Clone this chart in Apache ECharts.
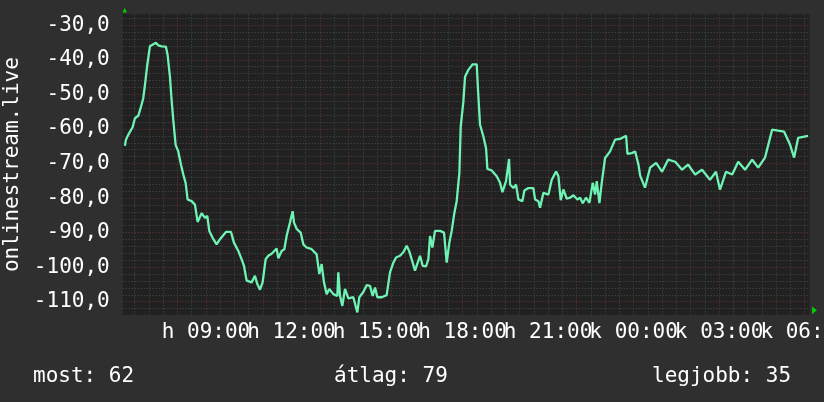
<!DOCTYPE html>
<html>
<head>
<meta charset="utf-8">
<script src="https://cdn.jsdelivr.net/npm/echarts@6/dist/echarts.min.js"></script>
<style>
html,body{margin:0;padding:0;background:#2f2f2f;}
#chart{width:824px;height:402px;}
</style>
</head>
<body>
<div id="chart"></div>
<script>
// hours after 06:00 (day 1)
const hours = [0.158,0.193,0.275,0.427,0.509,0.626,0.708,0.801,0.860,0.942,1.035,1.152,1.246,1.327,1.444,1.596,1.655,1.737,1.795,1.854,1.936,2.029,2.123,2.205,2.287,2.357,2.497,2.614,2.708,2.848,2.965,3.047,3.117,3.234,3.374,3.491,3.702,3.877,3.982,4.135,4.251,4.333,4.427,4.602,4.719,4.801,4.895,4.988,5.094,5.187,5.304,5.480,5.538,5.655,5.749,5.830,5.947,6.041,6.088,6.181,6.322,6.415,6.532,6.708,6.883,6.977,7.058,7.140,7.234,7.327,7.468,7.608,7.643,7.702,7.784,7.877,7.994,8.170,8.310,8.380,8.520,8.637,8.754,8.848,8.930,9.012,9.164,9.339,9.456,9.573,9.667,9.807,9.924,10.041,10.135,10.216,10.333,10.427,10.509,10.602,10.719,10.801,10.860,10.942,11.035,11.211,11.351,11.444,11.538,11.620,11.713,11.795,11.889,11.936,12.029,12.088,12.205,12.357,12.497,12.556,12.614,12.731,12.825,12.871,13.023,13.199,13.316,13.398,13.526,13.632,13.667,13.784,13.877,13.959,14.099,14.170,14.310,14.485,14.544,14.661,14.719,14.836,15.012,15.129,15.281,15.363,15.444,15.538,15.655,15.772,15.889,16.029,16.123,16.216,16.333,16.450,16.567,16.649,16.708,16.801,16.883,17.000,17.175,17.351,17.526,17.737,17.784,17.936,18.053,18.170,18.23,18.40,18.58,18.79,19.00,19.21,19.46,19.70,19.91,20.16,20.40,20.68,20.89,21.03,21.24,21.46,21.67,21.91,22.16,22.37,22.61,22.86,23.28,23.49,23.63,23.77,24.12];
const values = [-64.9,-63.1,-61.7,-59.5,-56.9,-56.2,-54.0,-51.1,-47.3,-41.5,-36.1,-35.5,-35.1,-35.8,-36.1,-36.2,-38.6,-44.9,-51.6,-57.4,-64.6,-66.5,-70.3,-73.2,-75.6,-80.4,-80.9,-81.9,-86.9,-84.4,-85.7,-85.2,-89.5,-91.5,-93.4,-91.9,-89.8,-89.8,-92.9,-95.3,-97.7,-99.6,-103.9,-104.4,-102.5,-104.9,-106.5,-104.4,-97.7,-96.7,-96.1,-94.6,-97.4,-95.3,-94.8,-91.0,-87.1,-83.8,-87.1,-88.9,-90.0,-93.4,-94.3,-94.8,-96.3,-102.0,-99.1,-104.4,-107.8,-106.3,-107.8,-108.3,-101.5,-108.3,-111.2,-106.3,-109.0,-108.7,-113.1,-108.7,-107.2,-105.2,-105.4,-108.3,-105.9,-108.7,-108.7,-108.1,-101.5,-98.7,-97.2,-96.7,-95.7,-93.8,-95.5,-97.7,-101.0,-98.7,-96.7,-99.6,-99.8,-97.7,-91.0,-94.3,-89.5,-89.5,-90.0,-98.7,-92.9,-89.5,-84.3,-80.9,-72.7,-59.3,-52.1,-44.9,-42.9,-41.3,-41.3,-50.7,-58.8,-62.2,-65.6,-71.6,-72.0,-73.7,-75.6,-78.3,-75.1,-68.7,-76.1,-77.1,-76.1,-80.4,-80.9,-77.8,-77.1,-77.1,-80.4,-80.9,-82.8,-78.5,-79.0,-74.7,-72.3,-73.7,-80.6,-77.5,-80.2,-79.9,-79.2,-80.4,-79.9,-81.5,-79.9,-81.4,-75.6,-79.0,-75.1,-81.5,-75.6,-68.4,-66.5,-63.1,-62.9,-62.0,-67.2,-67.0,-66.5,-70.3,-73.5,-77.0,-71.2,-69.8,-72.4,-68.9,-69.5,-71.8,-70.3,-73.2,-71.8,-74.7,-72.4,-77.6,-72.4,-73.2,-69.5,-71.8,-68.9,-71.2,-68.3,-60.2,-60.8,-64.6,-68.3,-62.6,-62.0];
const xLabelHours = [3,6,9,12,15,18,21,24];
const xTickLabels = ['h 09:00','h 12:00','h 15:00','h 18:00','h 21:00','k 00:00','k 03:00','k 06:00'];
const yLabelValues = [-110,-100,-90,-80,-70,-60,-50,-40,-30];
const axisTitle = 'onlinestream.live';
const footer = ['most: 62', 'átlag: 79', 'legjobb: 35'];

const xGridValues = [];
for (let i = 1; i <= 48; i++) xGridValues.push(i * 0.5);
const yGridValues = [];
for (let v = -112; v <= -28; v += 2) yGridValues.push(v);

const FONT = 'DejaVu Sans Mono';
const X_MIN = 0.08, X_MAX = 24.17;
const labelFormatter = v => xTickLabels[xLabelHours.indexOf(Math.round(v))] || '';
function labelAxis(vals) {
  return {
    type: 'value', min: X_MIN, max: X_MAX, position: 'bottom', offset: 0,
    axisLine: {show: false}, axisTick: {show: false}, splitLine: {show: false},
    axisLabel: {
      customValues: vals, interval: 0, hideOverlap: false,
      showMinLabel: true, showMaxLabel: true,
      color: '#ffffff', fontFamily: FONT, fontSize: 21, margin: 7,
      formatter: labelFormatter
    }
  };
}
const footStyle = {color: '#ffffff', fontFamily: FONT, fontSize: 21, fontWeight: 'normal'};
const chart = echarts.init(document.getElementById('chart'), null, {renderer: 'canvas'});
chart.setOption({
  backgroundColor: '#2f2f2f',
  animation: false,
  grid: {
    left: 122.7, right: 14.5, top: 14.3, bottom: 87,
    show: true, backgroundColor: '#212121', borderWidth: 0,
    containLabel: false, outerBoundsMode: 'none'
  },
  title: [
    {text: footer[0], left: 28, top: 361, textStyle: footStyle},
    {text: footer[1], left: 329, top: 361, textStyle: footStyle},
    {text: footer[2], left: 647, top: 361, textStyle: footStyle}
  ],
  xAxis: [
    {
      type: 'value', min: X_MIN, max: X_MAX,
      axisLine: {show: false},
      axisTick: {show: false, customValues: xGridValues},
      splitLine: {show: true, lineStyle: {color: ['#4b4b4b', '#6e3434'], type: [1, 2], width: 1}},
      axisLabel: {show: false}
    },
    labelAxis(xLabelHours.filter((h, i) => i % 2 === 0)),
    labelAxis(xLabelHours.filter((h, i) => i % 2 === 1))
  ],
  yAxis: {
    type: 'value', min: -113.84, max: -26.83,
    name: axisTitle, nameLocation: 'middle', nameRotate: 90, nameGap: 100,
    nameTextStyle: {color: '#ffffff', fontFamily: FONT, fontSize: 21},
    axisLine: {show: false},
    axisTick: {show: false, customValues: yGridValues},
    splitLine: {show: true, lineStyle: {color: ['#4b4b4b', '#6e3434', '#4b4b4b', '#4b4b4b', '#4b4b4b'], type: [1, 2], width: 1}},
    axisLabel: {
      customValues: yLabelValues, showMinLabel: true, showMaxLabel: true,
      color: '#ffffff', fontFamily: FONT, fontSize: 21, margin: 13,
      formatter: v => v.toFixed(1).replace('.', ',')
    }
  },
  graphic: [
    {type: 'polygon', shape: {points: [[122.5, 12.5], [126.9, 12.5], [124.7, 7.8]]}, style: {fill: '#00d000'}},
    {type: 'polygon', shape: {points: [[812, 306.5], [812, 314], [817, 310.2]]}, style: {fill: '#00d000'}}
  ],
  series: [{
    type: 'line',
    xAxisIndex: 0,
    data: hours.map((h, i) => [h, values[i]]),
    showSymbol: false,
    lineStyle: {color: '#6ff3b4', width: 2.3},
    silent: true
  }]
});
</script>
</body>
</html>
